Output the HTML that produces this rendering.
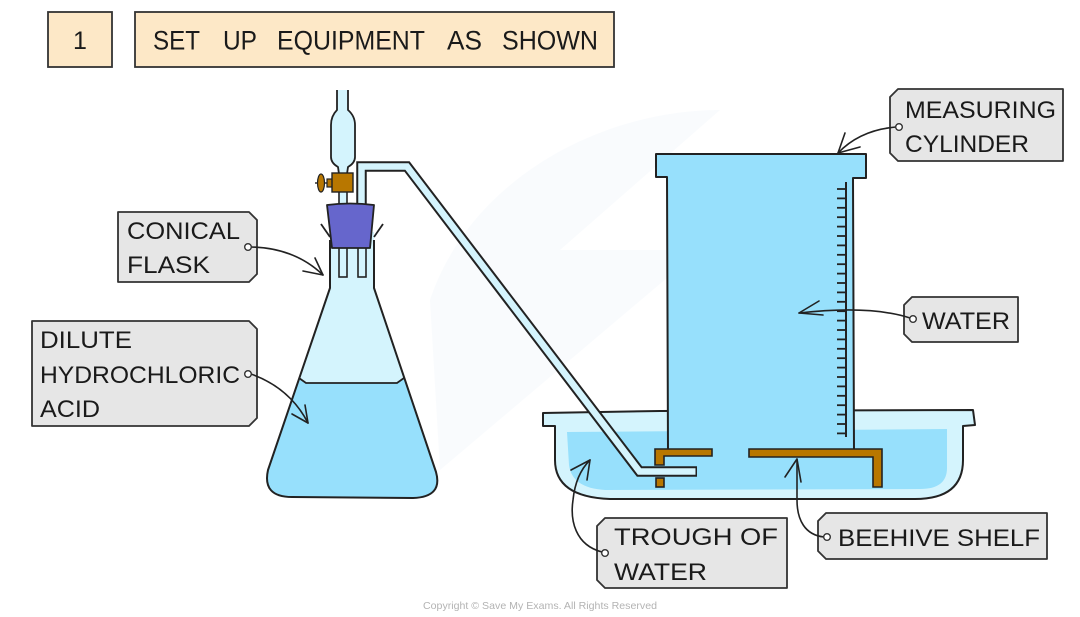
<!DOCTYPE html>
<html><head><meta charset="utf-8"><style>
html,body{margin:0;padding:0;background:#fff;}
svg{display:block;}
text{font-family:"Liberation Sans",sans-serif;fill:#1a1a1a;}
</style></head><body>
<svg width="1080" height="617" viewBox="0 0 1080 617" xmlns="http://www.w3.org/2000/svg">
<rect width="1080" height="617" fill="#fff"/>
<!-- faint watermark -->
<path d="M430,300 C470,180 600,110 720,110 L560,250 L700,250 L440,470 Z" fill="#f6fafc" opacity="0.7"/>

<!-- Title -->
<rect x="48" y="12" width="64" height="55" fill="#fde8c7" stroke="#333" stroke-width="1.8"/>
<text x="73" y="49" font-size="25">1</text>
<rect x="135" y="12" width="479" height="55" fill="#fde8c7" stroke="#333" stroke-width="1.8"/>
<g font-size="27">
<text x="153" y="49.5" textLength="47" lengthAdjust="spacingAndGlyphs">SET</text>
<text x="223" y="49.5" textLength="34" lengthAdjust="spacingAndGlyphs">UP</text>
<text x="277" y="49.5" textLength="148" lengthAdjust="spacingAndGlyphs">EQUIPMENT</text>
<text x="447" y="49.5" textLength="35" lengthAdjust="spacingAndGlyphs">AS</text>
<text x="502" y="49.5" textLength="96" lengthAdjust="spacingAndGlyphs">SHOWN</text>
</g>

<!-- Trough -->
<path d="M543,413 L660,411 L973,410 L975,425 L963,426 L963,460 Q963,499 915,499 L610,499 Q555,497 555,460 L555,426 L543,426 Z" fill="#d4f4fd" stroke="#222" stroke-width="2" stroke-linejoin="round"/>
<path d="M567,432 L947,429 L947,468 Q947,489 920,489 L605,490 Q572,488 569,465 Z" fill="#97e0fc"/>

<!-- Measuring cylinder -->
<path d="M656,154 L866,154 L866,178 L853,178 L854,452 L668,452 L667,177 L656,177 Z" fill="#97e0fc"/>
<path d="M668,452 L667,177 L656,177 L656,154 L866,154 L866,178 L853,178 L854,452" fill="none" stroke="#222" stroke-width="2" stroke-linejoin="round"/>
<line x1="846" y1="182" x2="846" y2="437" stroke="#222" stroke-width="2"/>
<g stroke="#222" stroke-width="1.8">
<line x1="837" y1="189" x2="846" y2="189"/><line x1="837" y1="198.4" x2="846" y2="198.4"/><line x1="837" y1="207.8" x2="846" y2="207.8"/><line x1="837" y1="217.2" x2="846" y2="217.2"/><line x1="837" y1="226.6" x2="846" y2="226.6"/><line x1="837" y1="236" x2="846" y2="236"/><line x1="837" y1="245.4" x2="846" y2="245.4"/><line x1="837" y1="254.8" x2="846" y2="254.8"/><line x1="837" y1="264.2" x2="846" y2="264.2"/><line x1="837" y1="273.6" x2="846" y2="273.6"/><line x1="837" y1="283" x2="846" y2="283"/><line x1="837" y1="292.4" x2="846" y2="292.4"/><line x1="837" y1="301.8" x2="846" y2="301.8"/><line x1="837" y1="311.2" x2="846" y2="311.2"/><line x1="837" y1="320.6" x2="846" y2="320.6"/><line x1="837" y1="330" x2="846" y2="330"/><line x1="837" y1="339.4" x2="846" y2="339.4"/><line x1="837" y1="348.8" x2="846" y2="348.8"/><line x1="837" y1="358.2" x2="846" y2="358.2"/><line x1="837" y1="367.6" x2="846" y2="367.6"/><line x1="837" y1="377" x2="846" y2="377"/><line x1="837" y1="386.4" x2="846" y2="386.4"/><line x1="837" y1="395.8" x2="846" y2="395.8"/><line x1="837" y1="405.2" x2="846" y2="405.2"/><line x1="837" y1="414.6" x2="846" y2="414.6"/><line x1="837" y1="424" x2="846" y2="424"/><line x1="837" y1="433.4" x2="846" y2="433.4"/>
</g>

<!-- Beehive shelf -->
<path d="M655,449 L712,449 L712,456 L664,456 L664,465 L655,465 Z" fill="#b87700" stroke="#222" stroke-width="1.6"/>
<rect x="656" y="478" width="8" height="9" fill="#b87700" stroke="#222" stroke-width="1.6"/>
<path d="M749,449 L882,449 L882,487 L873,487 L873,457 L749,457 Z" fill="#b87700" stroke="#222" stroke-width="1.6"/>

<!-- Flask -->
<path d="M330,232 L330,288 L268,470 Q262,497 292,497 L413,498 Q443,497 436,472 L374,288 L374,232 Z" fill="#d4f4fd"/>
<path d="M299,378 L306,383 L397,383 L404,378 L436,472 Q443,497 413,498 L292,497 Q262,497 268,470 Z" fill="#97e0fc"/>
<path d="M299,378 L306,383 L397,383 L404,378" fill="none" stroke="#222" stroke-width="1.8"/>
<path d="M330,240 L330,288 L268,470 Q262,497 292,497 L413,498 Q443,497 436,472 L374,288 L374,240" fill="none" stroke="#222" stroke-width="2" stroke-linejoin="round"/>
<line x1="321" y1="224" x2="330" y2="237" stroke="#222" stroke-width="1.8"/>
<line x1="383" y1="224" x2="374" y2="237" stroke="#222" stroke-width="1.8"/>
<rect x="339" y="246" width="8" height="31" fill="#d4f4fd" stroke="#222" stroke-width="1.6"/>
<rect x="358" y="246" width="8" height="31" fill="#d4f4fd" stroke="#222" stroke-width="1.6"/>

<!-- Delivery tube -->
<path d="M361.5,206 L361.5,166.5 L407,166.5 L639.5,471.5 L697,471.5" fill="none" stroke="#222" stroke-width="10.5" stroke-linejoin="miter"/>
<path d="M361.5,206 L361.5,166.5 L407,166.5 L639.5,471.5 L695.5,471.5" fill="none" stroke="#d4f4fd" stroke-width="6.5" stroke-linejoin="miter"/>

<!-- Funnel -->
<path d="M337,90 L337,110 Q331,116 331,125 L331,157 Q331,163 338,167 L339,174 L347,174 L348,167 Q355,163 355,157 L355,125 Q355,116 348,110 L348,90" fill="#d4f4fd" stroke="#222" stroke-width="1.8" stroke-linejoin="round"/>
<rect x="339" y="190" width="8" height="17" fill="#d4f4fd" stroke="#222" stroke-width="1.6"/>
<line x1="315" y1="183" x2="328" y2="183" stroke="#222" stroke-width="1.4"/>
<ellipse cx="321" cy="183" rx="3.5" ry="9" fill="#b87700" stroke="#222" stroke-width="1.2"/>
<rect x="327" y="179" width="6" height="8" fill="#b87700" stroke="#222" stroke-width="1.2"/>
<rect x="332" y="173" width="21" height="19" fill="#b87700" stroke="#222" stroke-width="1.4"/>

<!-- Stopper -->
<path d="M327,205 Q350,202 374,205 L370,248 L332,248 Z" fill="#6666cc" stroke="#222" stroke-width="1.8" stroke-linejoin="round"/>

<!-- Labels -->
<g fill="#e6e6e6" stroke="#333" stroke-width="1.8" stroke-linejoin="round">
<path d="M118,212 L249,212 L257,220 L257,274 L249,282 L118,282 Z"/>
<path d="M32,321 L249,321 L257,329 L257,418 L249,426 L32,426 Z"/>
<path d="M898,89 L1063,89 L1063,161 L898,161 L890,153 L890,97 Z"/>
<path d="M912,297 L1018,297 L1018,342 L912,342 L904,334 L904,305 Z"/>
<path d="M605,518 L787,518 L787,588 L605,588 L597,580 L597,526 Z"/>
<path d="M826,513 L1047,513 L1047,559 L826,559 L818,551 L818,521 Z"/>
</g>
<g font-size="24">
<text x="127" y="239" textLength="113" lengthAdjust="spacingAndGlyphs">CONICAL</text>
<text x="127" y="273" textLength="83" lengthAdjust="spacingAndGlyphs">FLASK</text>
<text x="40" y="348" textLength="92" lengthAdjust="spacingAndGlyphs">DILUTE</text>
<text x="40" y="383" textLength="200" lengthAdjust="spacingAndGlyphs">HYDROCHLORIC</text>
<text x="40" y="417" textLength="60" lengthAdjust="spacingAndGlyphs">ACID</text>
<text x="905" y="118" textLength="151" lengthAdjust="spacingAndGlyphs">MEASURING</text>
<text x="905" y="152" textLength="124" lengthAdjust="spacingAndGlyphs">CYLINDER</text>
<text x="922" y="329" textLength="88" lengthAdjust="spacingAndGlyphs">WATER</text>
<text x="614" y="545" textLength="164" lengthAdjust="spacingAndGlyphs">TROUGH OF</text>
<text x="614" y="580" textLength="93" lengthAdjust="spacingAndGlyphs">WATER</text>
<text x="838" y="546" textLength="202" lengthAdjust="spacingAndGlyphs">BEEHIVE SHELF</text>
</g>

<!-- Connectors -->
<g fill="none" stroke="#222" stroke-width="1.6" stroke-linecap="round" stroke-linejoin="round">
<path d="M251,247 Q295,248 323,275"/><path d="M303,271 L323,275 L315,258"/>
<path d="M251,374 Q290,388 308,423"/><path d="M292,414 L308,423 L305,405"/>
<path d="M896,127 Q860,130 838,153"/><path d="M845,133 L838,153 L860,147"/>
<path d="M910,318 Q870,305 799,313"/><path d="M819,301 L799,313 L823,315"/>
<path d="M602,552 C575,545 570,520 573,500 C575,480 582,468 590,460"/><path d="M571,470 L590,460 L587,480"/>
<path d="M824,537 C805,535 797,520 797,500 C797,480 797,470 797,459"/><path d="M785,477 L797,459 L801,482"/>
</g>
<g fill="#fff" stroke="#333" stroke-width="1.4">
<circle cx="248" cy="247" r="3.3"/>
<circle cx="248" cy="374" r="3.3"/>
<circle cx="899" cy="127" r="3.3"/>
<circle cx="913" cy="319" r="3.3"/>
<circle cx="605" cy="553" r="3.3"/>
<circle cx="827" cy="537" r="3.3"/>
</g>

<text x="423" y="609" font-size="10.5" style="fill:#b3b3b3" textLength="234" lengthAdjust="spacingAndGlyphs">Copyright © Save My Exams. All Rights Reserved</text>
</svg>
</body></html>
